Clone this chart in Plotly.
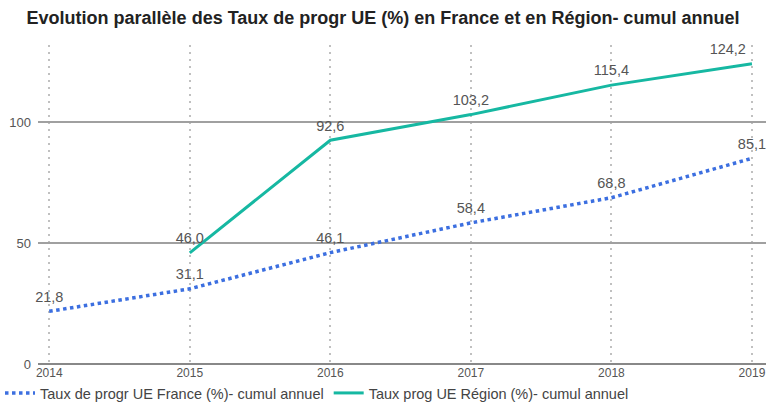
import plotly.graph_objects as go

years = [2014, 2015, 2016, 2017, 2018, 2019]
france = [21.8, 31.1, 46.1, 58.4, 68.8, 85.1]
region_years = [2015, 2016, 2017, 2018, 2019]
region = [46.0, 92.6, 103.2, 115.4, 124.2]
ytick_vals = [0, 50, 100]

def fmt(v):
    return f"{v:.1f}".replace(".", ",")

fig = go.Figure()
fig.add_trace(go.Scatter(
    x=years, y=france, mode="lines+markers+text", name="Taux de progr UE France (%)- cumul annuel",
    line=dict(color="#3c6fe0", width=3.5, dash="dot"),
    marker=dict(size=8, color="rgba(0,0,0,0)"),
    text=[fmt(v) for v in france], textposition="top center",
    textfont=dict(size=14.5, color="#555555"), cliponaxis=False,
))
fig.add_trace(go.Scatter(
    x=region_years, y=region, mode="lines+markers+text", name="Taux prog UE Région (%)- cumul annuel",
    line=dict(color="#16b8a2", width=3),
    marker=dict(size=8, color="rgba(0,0,0,0)"),
    text=[fmt(v) for v in region],
    textposition=["top center"] * (len(region) - 1) + ["top left"],
    textfont=dict(size=14.5, color="#555555"), cliponaxis=False,
))

fig.update_layout(
    width=766, height=409,
    margin=dict(l=38, r=0, t=45, b=45, autoexpand=False),
    paper_bgcolor="white", plot_bgcolor="white",
    font=dict(family="Liberation Sans, Arial, sans-serif", color="#555555"),
    title=dict(text="<b>Evolution parallèle des Taux de progr UE (%) en France et en Région- cumul annuel</b>",
               x=0.5, xanchor="center", xref="container", y=0.956, yanchor="middle", yref="container",
               font=dict(size=18, color="#222222")),
    legend=dict(orientation="h", xref="container", yref="container", x=0.0, xanchor="left",
                y=0.0, yanchor="bottom",
                font=dict(size=14.5, color="#444444"), itemwidth=30),
    showlegend=True,
)
fig.update_xaxes(
    range=[2013.92, 2019.1], tickvals=years, ticktext=[str(y) for y in years],
    showgrid=True, gridcolor="#c0c0c0", griddash="2px,5px", gridwidth=1.5,
    zeroline=False, showline=False, tickfont=dict(size=12, color="#555555"),
    ticks="", automargin=False,
)
fig.update_yaxes(
    range=[0, 132], tickvals=ytick_vals,
    showgrid=True, gridcolor="#a0a0a0", gridwidth=1.5,
    zeroline=True, zerolinecolor="#888888", zerolinewidth=1.5,
    showline=False, tickfont=dict(size=13, color="#555555"), ticks="",
    ticklabelstandoff=6, automargin=False,
)

fig.write_html("out.html", config={"displayModeBar": False},
               post_script="document.body.style.margin='0';document.body.style.overflow='hidden';")
